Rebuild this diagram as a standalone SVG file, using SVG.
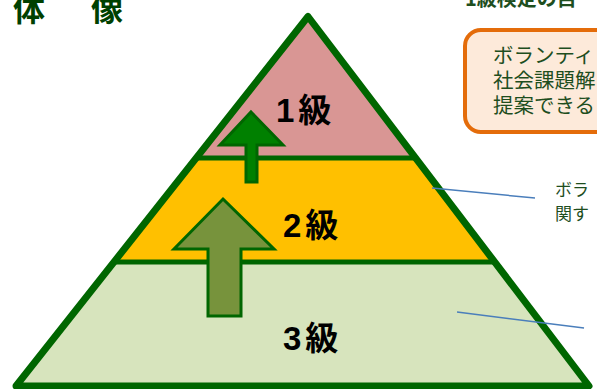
<svg xmlns="http://www.w3.org/2000/svg" width="597" height="389" viewBox="0 0 597 389">
<defs>
<style>
.edge{fill:none;stroke:#006600;stroke-width:7;stroke-linejoin:round}
.div{stroke:#006600;stroke-width:5}
.lvl{font-family:"Liberation Sans","Noto Sans CJK JP",sans-serif;font-weight:bold;font-size:33px;fill:#000}
.note{font-family:"Noto Sans CJK JP",sans-serif;fill:#1E4E1E}
.conn{stroke:#4A7EBB;stroke-width:1.5;fill:none}
</style>
</defs>
<rect width="597" height="389" fill="#fff"/>
<g id="title">
<text x="13" y="21" font-family="Noto Sans CJK JP,sans-serif" font-weight="bold" font-size="32" fill="#004000">体</text>
<text x="91" y="21" font-family="Noto Sans CJK JP,sans-serif" font-weight="bold" font-size="32" fill="#004000">像</text>
</g>
<g id="heading">
<text x="465" y="6" class="note" font-weight="bold" font-size="20">1級検定の目</text>
</g>
<g id="level3">
<polygon points="308,16.5 589,386 16,386" fill="#D7E4BD"/>
</g>
<g id="level2">
<polygon points="196.2,158 415.5,158 494.6,262 114.1,262" fill="#FFC000"/>
</g>
<g id="level1">
<polygon points="308,16.5 415.5,158 196.2,158" fill="#D99694"/>
</g>
<g id="pyramid-lines">
<line class="div" x1="196" y1="158" x2="416" y2="158"/>
<line class="div" x1="114" y1="262" x2="495" y2="262"/>
<polygon class="edge" points="308,16.5 589,386 16,386"/>
</g>
<g id="arrow-small">
<polygon points="251,112 283,145 257,145 257,182 246,182 246,145 220,145" fill="#008000" stroke="#006600" stroke-width="3"/>
</g>
<g id="arrow-big">
<polygon points="223,199 274,249 241,249 241,316 208,316 208,249 174,249" fill="#77933C" stroke="#006600" stroke-width="3"/>
</g>
<g id="labels">
<text class="lvl" x="276" y="122" letter-spacing="4">1級</text>
<text class="lvl" x="283" y="237" letter-spacing="4">2級</text>
<text class="lvl" x="283" y="350" letter-spacing="4" style="font-weight:600">3級</text>
</g>
<g id="callout-1">
<rect x="465" y="30" width="160" height="102" rx="16" fill="#FDEADA" stroke="#E46C0A" stroke-width="4"/>
<text class="note" font-size="20.5" x="493" y="63">ボランティ</text>
<text class="note" font-size="20.5" x="493" y="88">社会課題解</text>
<text class="note" font-size="20.5" x="493" y="113">提案できる</text>
</g>
<g id="callout-2">
<text class="note" font-size="17" x="555" y="196">ボラ</text>
<text class="note" font-size="17" x="555" y="220">関す</text>
</g>
<g id="connectors">
<line class="conn" x1="432" y1="188" x2="535" y2="198"/>
<line class="conn" x1="457" y1="312" x2="584" y2="328"/>
</g>
</svg>
